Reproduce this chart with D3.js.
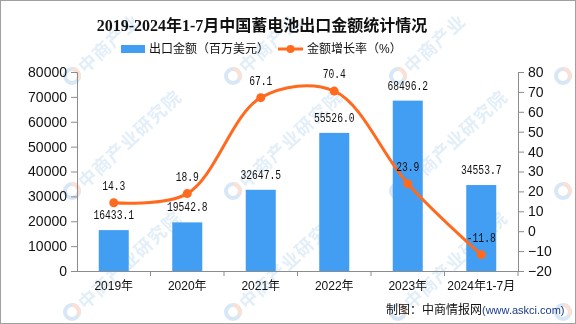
<!DOCTYPE html>
<html><head><meta charset="utf-8">
<script src="https://cdn.jsdelivr.net/npm/d3@7/dist/d3.min.js"></script>
<style>
html,body{margin:0;padding:0;background:#fff;}
svg{display:block;}
</style></head>
<body><svg id="chart" width="576" height="324"></svg>
<script>
const categories = ["2019年","2020年","2021年","2022年","2023年","2024年1-7月"];
const exportValues = [16433.1, 19542.8, 32647.5, 55526.0, 68496.2, 34553.7];
const growthRates = [14.3, 18.9, 67.1, 70.4, 23.9, -11.8];
const leftTicks = [0,10000,20000,30000,40000,50000,60000,70000,80000];
const rightTicks = [-20,-10,0,10,20,30,40,50,60,70,80];
const titleText = "2019-2024年1-7月中国蓄电池出口金额统计情况";
const legendBar = "出口金额（百万美元）";
const legendLine = "金额增长率（%）";
const watermarkText = "中商产业研究院";

const svg = d3.select("#chart");
const W = 576, H = 324;
const L = 77, R = 518, T = 72, B = 271;
const barColor = "#419ef2", lineColor = "#ff6a1f", axisColor = "#8c8c8c";
const sansCJK = "'Liberation Sans','Noto Sans CJK SC',sans-serif";

svg.append("rect").attr("width",W).attr("height",H).attr("fill","#fff");

// watermark (characters laid along a diagonal; only those fully inside the picture are drawn)
const wm = svg.append("g").attr("opacity",0.6);
const wmX = [-90, 72, 233, 398, 563], wmY = [76, 191, 312];
const ang = -43 * Math.PI/180, step = 19;
wmY.forEach(yy=>wmX.forEach(xx=>{
  if (xx > 0) {
    const g = wm.append("g").attr("transform",`translate(${xx},${yy})`);
    g.append("circle").attr("r",7).attr("fill","none").attr("stroke","#bcd8ef").attr("stroke-width",4);
    g.append("path").attr("d","M 0 -7 A 7 7 0 0 1 6.1 3.4").attr("fill","none").attr("stroke","#f5cdbd").attr("stroke-width",4);
  }
  Array.from(watermarkText).forEach((ch,k)=>{
    const d = 20 + k*step;
    const cx = xx + d*Math.cos(ang), cy = yy + d*Math.sin(ang);
    if (cx < 14 || cx > W-14 || cy < 14 || cy > H-14) return;
    wm.append("text").attr("transform",`translate(${cx},${cy}) rotate(-43)`)
      .attr("text-anchor","middle").attr("dominant-baseline","central")
      .attr("font-size",18).attr("font-weight","bold")
      .attr("font-family","'Noto Sans CJK SC',sans-serif").attr("fill","#cfe3f4").text(ch);
  });
}));

const x = d3.scaleBand().domain(categories).range([L,R]).padding(0);
const yL = d3.scaleLinear().domain([0,80000]).range([B,T]);
const yR = d3.scaleLinear().domain([-20,80]).range([B,T]);
const barW = 30;

// bars
svg.append("g").selectAll("rect").data(exportValues).join("rect")
  .attr("x",(d,i)=>x(categories[i])+x.bandwidth()/2-barW/2)
  .attr("y",d=>yL(d)).attr("width",barW).attr("height",d=>B-yL(d))
  .attr("fill",barColor);

// axes
const axL = svg.append("g").attr("transform",`translate(${L},0)`)
  .call(d3.axisLeft(yL).tickValues(leftTicks).tickSize(6).tickPadding(4).tickFormat(d3.format("d")));
const axR = svg.append("g").attr("transform",`translate(${R},0)`)
  .call(d3.axisRight(yR).tickValues(rightTicks).tickSize(6).tickPadding(4));
const axB = svg.append("g").attr("transform",`translate(0,${B})`)
  .call(d3.axisBottom(x).tickSize(0).tickPadding(10));
[axL,axR,axB].forEach(a=>{
  a.select(".domain").attr("stroke",axisColor);
  a.selectAll(".tick line").attr("stroke",axisColor);
});
axL.selectAll("text").attr("font-size",14).attr("font-family","'Liberation Sans',sans-serif").attr("fill","#111");
axR.selectAll("text").attr("font-size",14).attr("font-family","'Liberation Sans',sans-serif").attr("fill","#111");
axB.selectAll("text").attr("font-size",12).attr("font-family",sansCJK).attr("fill","#111");
axB.select(".domain").attr("d",`M${L},0.5H${R}`);
axB.append("g").selectAll("line").data(categories).join("line")
  .attr("x1",d=>x(d)+x.bandwidth()).attr("x2",d=>x(d)+x.bandwidth())
  .attr("y1",0).attr("y2",5).attr("stroke",axisColor);

// line
const pts = growthRates.map((d,i)=>[x(categories[i])+x.bandwidth()/2, yR(d)]);
svg.append("path").attr("d",d3.line().curve(d3.curveCatmullRom.alpha(0.5))(pts))
  .attr("fill","none").attr("stroke",lineColor).attr("stroke-width",3);
svg.append("g").selectAll("circle").data(pts).join("circle")
  .attr("cx",d=>d[0]).attr("cy",d=>d[1]).attr("r",4.5).attr("fill",lineColor);

// labels
const monoFont = "'Liberation Mono','DejaVu Sans Mono',monospace";
svg.append("g").selectAll("text").data(exportValues).join("text")
  .attr("x",(d,i)=>x(categories[i])+x.bandwidth()/2).attr("y",d=>yL(d)-11)
  .attr("text-anchor","middle").attr("font-size",12).attr("font-family",monoFont).attr("fill","#111")
  .attr("textLength",d=>d.toFixed(1).length*5.8).attr("lengthAdjust","spacingAndGlyphs")
  .text(d=>d.toFixed(1));
svg.append("g").selectAll("text").data(growthRates).join("text")
  .attr("x",(d,i)=>pts[i][0]).attr("y",(d,i)=>pts[i][1]-13)
  .attr("text-anchor","middle").attr("font-size",12).attr("font-family",monoFont).attr("fill","#111")
  .attr("textLength",d=>d.toFixed(1).length*5.8).attr("lengthAdjust","spacingAndGlyphs")
  .text(d=>d.toFixed(1));

// title
svg.append("text").attr("x",262).attr("y",31).attr("text-anchor","middle")
  .attr("font-size",16).attr("font-weight","bold")
  .attr("font-family","'Liberation Serif','Noto Sans CJK SC',serif").attr("fill","#111").text(titleText);

// legend
svg.append("rect").attr("x",121).attr("y",45).attr("width",24).attr("height",8).attr("fill",barColor);
svg.append("text").attr("x",149).attr("y",53).attr("font-size",12).attr("font-family",sansCJK).attr("fill","#111").text(legendBar);
svg.append("line").attr("x1",278).attr("x2",303).attr("y1",49).attr("y2",49).attr("stroke",lineColor).attr("stroke-width",3);
svg.append("circle").attr("cx",290.5).attr("cy",49).attr("r",4).attr("fill",lineColor);
svg.append("text").attr("x",307).attr("y",53).attr("font-size",12).attr("font-family",sansCJK).attr("fill","#111").text(legendLine);

// footer
const ft = svg.append("text").attr("x",386).attr("y",314).attr("font-family",sansCJK);
ft.append("tspan").attr("font-size",12).attr("fill","#111").text("制图：中商情报网");
ft.append("tspan").attr("font-size",11).attr("fill","#1b3a8a").text("(www.askci.com)");

// border
svg.append("rect").attr("x",0.5).attr("y",0.5).attr("width",W-1).attr("height",H-1)
  .attr("fill","none").attr("stroke","#a0a0a0");
</script></body></html>
